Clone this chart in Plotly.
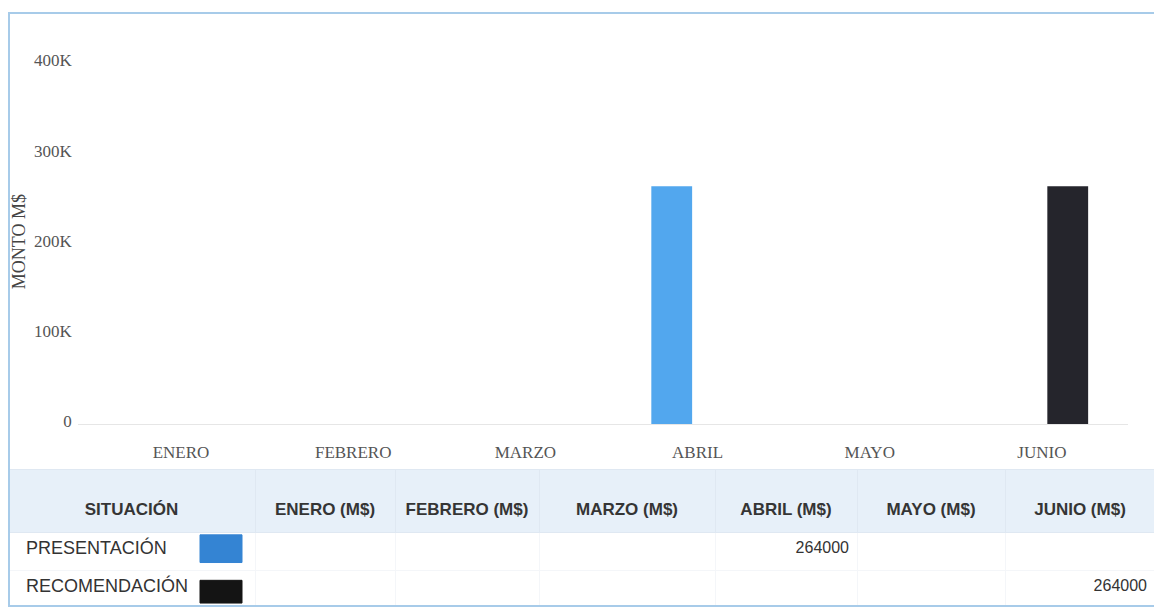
import plotly.graph_objects as go

# ---------------- data ----------------
months = ["ENERO", "FEBRERO", "MARZO", "ABRIL", "MAYO", "JUNIO"]
presentacion = [None, None, None, 264000, None, None]
recomendacion = [None, None, None, None, None, 264000]
series_names = ["PRESENTACIÓN", "RECOMENDACIÓN"]
y_tick_vals = [0, 100000, 200000, 300000, 400000]
y_tick_text = ["0", "100K", "200K", "300K", "400K"]
y_title = "MONTO M$"
first_col_title = "SITUACIÓN"
unit_suffix = " (M$)"

# ---------------- style ----------------
# The page body adds an 8px left margin, so the figure is 8px narrower and
# horizontal positions (given in screen pixels) are shifted back.
OFFX = 8
W, H = 1154, 607
bar_colors = ["#52a7ee", "#25252c"]
swatch_colors = ["#3484d3", "#141414"]
serif = "Liberation Serif, Times New Roman, serif"
sans = "Liberation Sans, Arial, sans-serif"


def fx(p):
    return (p - OFFX) / W


def fy(p):
    return 1 - p / H


fig = go.Figure()

series_values = [presentacion, recomendacion]
for name, vals, col in zip(series_names, series_values, bar_colors):
    fig.add_trace(go.Bar(x=months, y=vals, name=name, marker_color=col,
                         marker_line_width=0, showlegend=False))


def fmt(v):
    return "" if v is None else str(v)


header_vals = ["\u00a0<br><b>" + first_col_title + "</b>"] + \
              ["\u00a0<br><b>" + m + unit_suffix + "</b>" for m in months]
row_labels = ["\u00a0\u00a0" + s for s in series_names]
cell_cols = [row_labels] + [[fmt(presentacion[i]), fmt(recomendacion[i])] for i in range(len(months))]

fig.add_trace(go.Table(
    domain=dict(x=[0, fx(1155)], y=[0, fy(467)]),
    columnwidth=[247, 140, 144, 176, 142, 148, 150],
    header=dict(values=header_vals, fill_color="#e7f0f9", line=dict(color="#dfe8f2", width=1),
                align="center", height=63,
                font=dict(family=sans, size=17, color="#353535")),
    cells=dict(values=cell_cols, fill_color="rgba(0,0,0,0)", line=dict(color="#f4f6f9", width=1),
               align=["left"] + ["right"] * len(months), height=38,
               font=dict(family=sans, size=[18] + [16] * len(months), color="#333333")),
))

shapes = [
    dict(type="rect", xref="paper", yref="paper", x0=fx(9), x1=fx(1156), y0=fy(605), y1=fy(5),
         line=dict(color="#a7cbe9", width=2), fillcolor="rgba(0,0,0,0)", layer="above"),
    dict(type="rect", xref="paper", yref="paper", x0=fx(200), x1=fx(242), y0=fy(561), y1=fy(533),
         line=dict(color=swatch_colors[0], width=1), fillcolor=swatch_colors[0], layer="above"),
    dict(type="rect", xref="paper", yref="paper", x0=fx(200), x1=fx(242), y0=fy(602), y1=fy(579),
         line=dict(color=swatch_colors[1], width=1), fillcolor=swatch_colors[1], layer="above"),
]

fig.update_layout(
    width=W, height=H,
    margin=dict(l=0, r=0, t=0, b=0),
    paper_bgcolor="white", plot_bgcolor="white",
    barmode="group", bargap=0.4, bargroupgap=0.21,
    shapes=shapes,
    xaxis=dict(domain=[fx(77.7), fx(1128)], range=[-0.6, 5.5], showgrid=False, zeroline=False,
               showline=True, linecolor="#e6e6e6", linewidth=1, ticks="",
               ticklabelstandoff=12,
               tickfont=dict(family=serif, size=17, color="#555555")),
    yaxis=dict(domain=[fy(421), fy(27)], range=[0, 432000], tickvals=y_tick_vals, ticktext=y_tick_text,
               showgrid=False, zeroline=False, showline=False, ticks="", ticklabelstandoff=5,
               ticklabelshift=-3,
               tickfont=dict(family=serif, size=17, color="#555555")),
    annotations=[dict(text=y_title, xref="paper", yref="paper", x=fx(19), y=fy(237),
                      textangle=-90, showarrow=False, xanchor="center", yanchor="middle",
                      font=dict(family=serif, size=18, color="#444444"))],
)

fig.write_html("out.html")
